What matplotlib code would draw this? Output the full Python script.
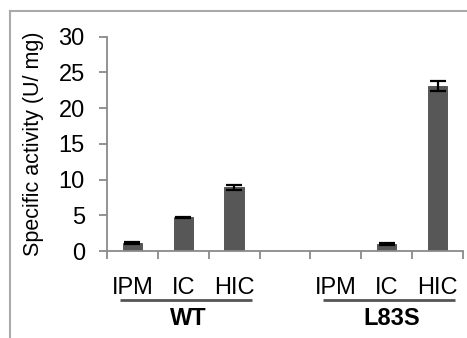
import matplotlib
matplotlib.use("Agg")
import matplotlib.pyplot as plt
from matplotlib.lines import Line2D
import numpy as np

plt.rcParams['font.family'] = ['Liberation Sans', 'DejaVu Sans']

categories = ["IPM", "IC", "HIC", "", "IPM", "IC", "HIC"]
values = [1.1, 4.7, 8.9, 0.0, 0.0, 1.0, 23.1]
errors = [0.15, 0.12, 0.35, 0.0, 0.0, 0.15, 0.7]
groups = ["WT", "L83S"]
group_members = [[0, 1, 2], [4, 5, 6]]
yticks = [0, 5, 10, 15, 20, 25, 30]
ylabel = "Specific activity (U/ mg)"

W, H = 467, 338
fig = plt.figure(figsize=(W / 100, H / 100), dpi=100)
ax = fig.add_axes([107 / W, 1 - 251 / H, (463 - 107) / W, (251 - 36.7) / H])

x = np.arange(len(categories))
show = [i for i, c in enumerate(categories) if c and values[i] > 0]
ax.bar(x[show], [values[i] for i in show], width=0.38, color="#575757",
       edgecolor="#4a4a4a", linewidth=0.6, zorder=2)
ax.errorbar(x[show], [values[i] for i in show], yerr=[errors[i] for i in show],
            fmt="none", ecolor="black", elinewidth=1.6, capsize=5.5,
            capthick=1.6, zorder=3)

ax.set_xlim(-0.5, len(categories) - 0.5)
ax.set_ylim(0, 30)
ax.set_yticks(yticks)
ax.set_yticklabels([str(t) for t in yticks], fontsize=17)
ax.set_xticks(np.arange(-0.5, len(categories), 1.0))
ax.set_xticklabels([])
for s in ["top", "right"]:
    ax.spines[s].set_visible(False)
for s in ["left", "bottom"]:
    ax.spines[s].set_color("#8a8a8a")
    ax.spines[s].set_linewidth(1.3)
ax.tick_params(axis="y", length=6, width=1.3, color="#8a8a8a", pad=10)
ax.tick_params(axis="x", length=6, width=1.3, color="#8a8a8a", direction="out")

ax.set_ylabel(ylabel, fontsize=15.5)
ax.yaxis.set_label_coords(-(107 - 33) / 356, 0.5)
ax.yaxis.label.set_va("center")

# category labels
for i, c in enumerate(categories):
    if c:
        ax.text(i, -37 / 214 * 30, c, ha="center", va="center", fontsize=17,
                clip_on=False)
# group underline and names
for g, mem in zip(groups, group_members):
    x0 = mem[0] - 0.25
    x1 = mem[-1] + 0.35
    ax.plot([x0, x1], [-49 / 214 * 30] * 2, color="#555555", lw=2,
            clip_on=False, solid_capstyle="butt")
    ax.text((mem[0] + mem[-1]) / 2 + 0.1, -67 / 214 * 30, g, ha="center",
            va="center", fontsize=17, fontweight="bold", clip_on=False)

# outer border (top and left)
fig.add_artist(Line2D([9.5 / W, 1.0], [1 - 10.5 / H] * 2, transform=fig.transFigure,
                      color="#aaaaaa", lw=1.5))
fig.add_artist(Line2D([9.5 / W] * 2, [0, 1 - 10.5 / H], transform=fig.transFigure,
                      color="#aaaaaa", lw=1.5))

fig.savefig("out.png", dpi=100)
